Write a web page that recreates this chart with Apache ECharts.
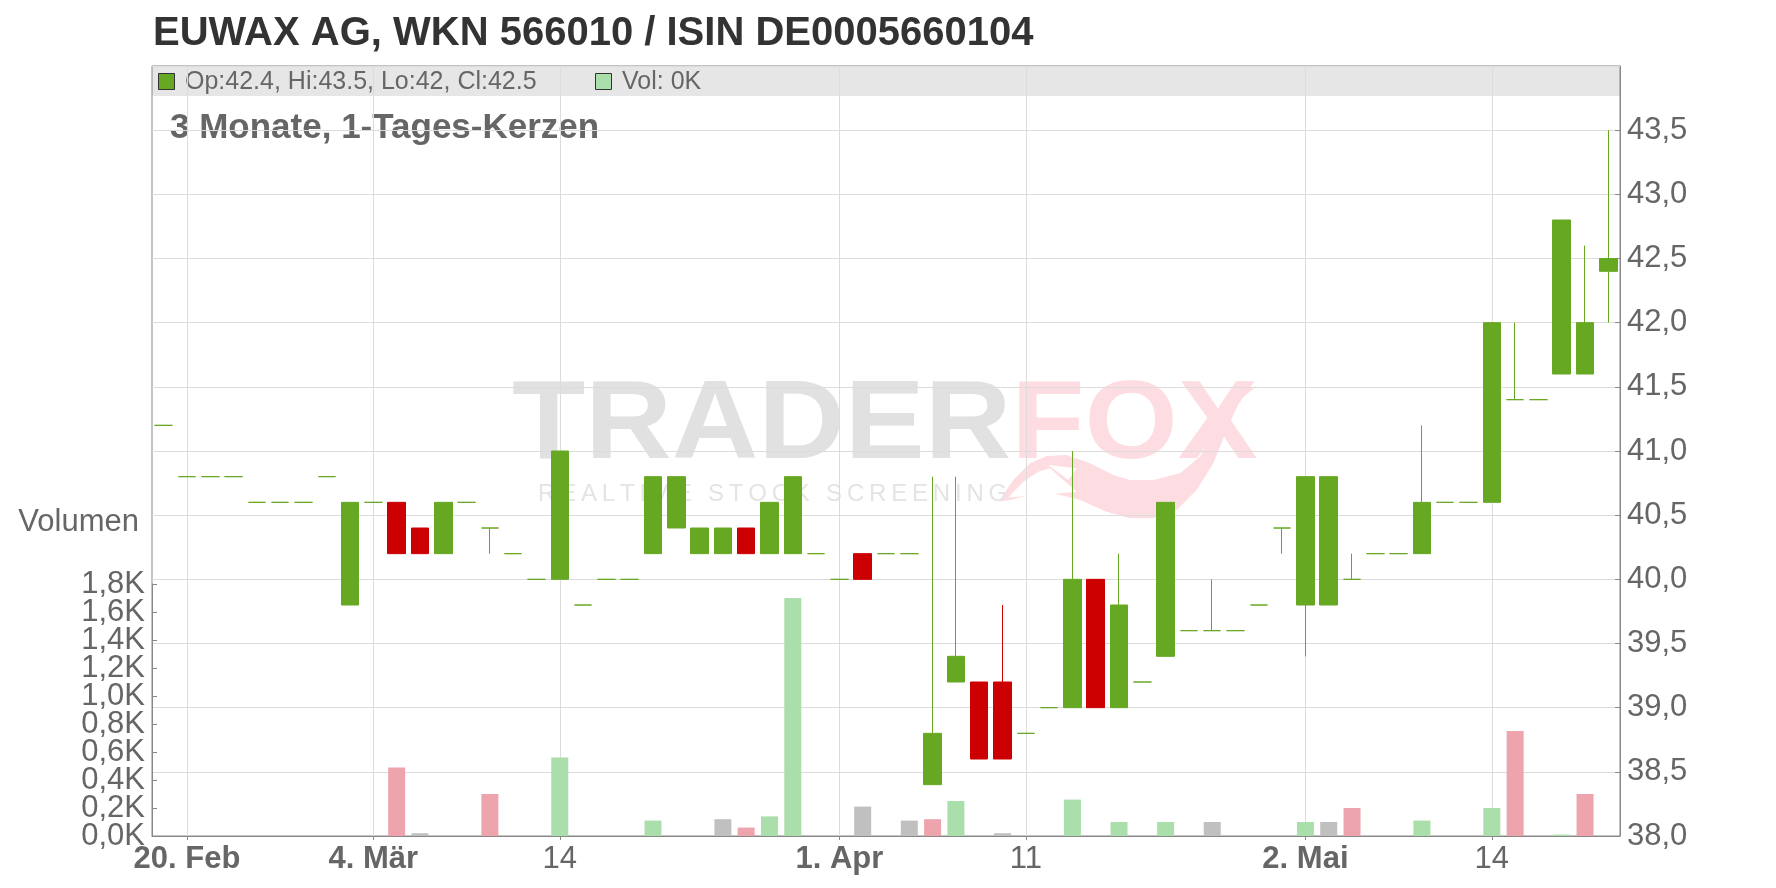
<!DOCTYPE html>
<html><head><meta charset="utf-8">
<script src="https://cdn.jsdelivr.net/npm/echarts@6/dist/echarts.min.js"></script>
<style>html,body{margin:0;padding:0;background:#fff}#c{width:1776px;height:888px}</style>
</head><body><div id="c"></div>
<script>
// ---- data ----
const dates = ['2019-02-19','2019-02-20','2019-02-21','2019-02-22','2019-02-25','2019-02-26','2019-02-27','2019-02-28','2019-03-01','2019-03-04',
'2019-03-05','2019-03-06','2019-03-07','2019-03-08','2019-03-11','2019-03-12','2019-03-13','2019-03-14','2019-03-15','2019-03-18',
'2019-03-19','2019-03-20','2019-03-21','2019-03-22','2019-03-25','2019-03-26','2019-03-27','2019-03-28','2019-03-29','2019-04-01',
'2019-04-02','2019-04-03','2019-04-04','2019-04-05','2019-04-08','2019-04-09','2019-04-10','2019-04-11','2019-04-12','2019-04-15',
'2019-04-16','2019-04-17','2019-04-18','2019-04-23','2019-04-24','2019-04-25','2019-04-26','2019-04-29','2019-04-30','2019-05-02',
'2019-05-03','2019-05-06','2019-05-07','2019-05-08','2019-05-09','2019-05-10','2019-05-13','2019-05-14','2019-05-15','2019-05-16',
'2019-05-17','2019-05-20','2019-05-21'];
const openP  = [41.2,40.8,40.8,40.8,40.6,40.6,40.6,40.8,39.8,40.6, 40.6,40.4,40.2,40.6,40.4,40.2,40.0,40.0,39.8,40.0, 40.0,40.2,40.4,40.2,40.2,40.4,40.2,40.2,40.2,40.0, 40.2,40.2,40.2,38.4,39.2,39.2,39.2,38.8,39.0,39.0, 40.0,39.0,39.2,39.4,39.6,39.6,39.6,39.8,40.4,39.8, 39.8,40.0,40.2,40.2,40.2,40.6,40.6,40.6,41.4,41.4, 41.6,41.6,42.4];
const highP  = [41.2,40.8,40.8,40.8,40.6,40.6,40.6,40.8,40.6,40.6, 40.6,40.4,40.6,40.6,40.4,40.2,40.0,41.0,39.8,40.0, 40.0,40.8,40.8,40.4,40.4,40.4,40.6,40.8,40.2,40.0, 40.2,40.2,40.2,40.8,40.8,39.2,39.8,38.8,39.0,41.0, 40.0,40.2,39.2,40.6,39.6,40.0,39.6,39.8,40.4,40.8, 40.8,40.2,40.2,40.2,41.2,40.6,40.6,42.0,42.0,41.4, 42.8,42.6,43.5];
const lowP   = [41.2,40.8,40.8,40.8,40.6,40.6,40.6,40.8,39.8,40.6, 40.2,40.2,40.2,40.6,40.2,40.2,40.0,40.0,39.8,40.0, 40.0,40.2,40.4,40.2,40.2,40.2,40.2,40.2,40.2,40.0, 40.0,40.2,40.2,38.4,39.2,38.6,38.6,38.8,39.0,39.0, 39.0,39.0,39.2,39.4,39.6,39.6,39.6,39.8,40.2,39.4, 39.8,40.0,40.2,40.2,40.2,40.6,40.6,40.6,41.4,41.4, 41.6,41.6,42.0];
const closeP = [41.2,40.8,40.8,40.8,40.6,40.6,40.6,40.8,40.6,40.6, 40.2,40.2,40.6,40.6,40.4,40.2,40.0,41.0,39.8,40.0, 40.0,40.8,40.8,40.4,40.4,40.2,40.6,40.8,40.2,40.0, 40.0,40.2,40.2,38.8,39.4,38.6,38.6,38.8,39.0,40.0, 39.0,39.8,39.2,40.6,39.6,39.6,39.6,39.8,40.4,40.8, 40.8,40.0,40.2,40.2,40.6,40.6,40.6,42.0,41.4,41.4, 42.8,42.0,42.5];
const volumeK = [0,0,0,0,0,0,0,0,0,0, 0.49,0.02,0,0,0.30,0,0,0.56,0,0, 0,0.11,0,0,0.12,0.06,0.14,1.70,0,0, 0.21,0,0.11,0.12,0.25,0,0.02,0,0,0.26, 0,0.10,0,0.10,0,0.10,0,0,0,0.10, 0.10,0.20,0,0,0.11,0,0,0.20,0.75,0, 0.01,0.30,0];
const tickDates  = ['2019-02-20','2019-03-04','2019-03-14','2019-04-01','2019-04-11','2019-05-02','2019-05-14'];
const tickLabels = ['20. Feb','4. Mär','14','1. Apr','11','2. Mai','14'];
const tickBold   = [true,true,false,true,false,true,false];
const volTicksA = [0, 0.4, 0.8, 1.2, 1.6];
const volTicksB = [0.2, 0.6, 1.0, 1.4, 1.8];
const titleText = 'EUWAX AG, WKN 566010 / ISIN DE0005660104';
const subtitleText = '3 Monate, 1-Tages-Kerzen';
const volumeName = 'Volumen';

// ---- colours ----
const UP = '#67a823', DOWN = '#cc0000';
const V_UP = '#aadeaa', V_DOWN = '#eea4ac', V_FLAT = '#c0c0c0';
const FONT = '"Liberation Sans", Arial, sans-serif';
const AX = 31;

const candleData = dates.map((d, i) => {
  const item = { value: [openP[i], closeP[i], lowP[i], highP[i]] };
  if (openP[i] === closeP[i]) {
    item.itemStyle = { color: UP, color0: UP, borderColor: UP, borderColor0: UP };
  }
  return item;
});
const volData = dates.map((d, i) => {
  let c = V_FLAT;
  if (i > 0) {
    if (closeP[i] > closeP[i - 1]) c = V_UP;
    else if (closeP[i] < closeP[i - 1]) c = V_DOWN;
  }
  return { value: volumeK[i], itemStyle: { color: c } };
});

const last = dates.length - 1;
const headerText = 'Op:' + openP[last] + ', Hi:' + highP[last] + ', Lo:' + lowP[last] + ', Cl:' + closeP[last];
const volText = 'Vol: ' + volumeK[last] + 'K';

const isTick = (i, v) => tickDates.indexOf(v) >= 0;
const comma = v => v.toFixed(1).replace('.', ',');
const TS = '\u2009';
const spaced = s => s.split(' ').map(w => w.split('').join(TS)).join(' ' + TS + TS);

// watermark fox-tail decoration (logo outline, mapped to page pixels)
const Z = p => [980 + p[0] / 3, 380 + p[1] / 3];
const foxOuter = [[55,365],[100,300],[150,250],[200,228],[260,225],[330,250],[400,285],[450,300],[520,300],[600,280],[660,230],[700,150],[740,80],[790,30],[830,18],
  [780,60],[740,150],[700,250],[650,330],[590,390],[520,415],[450,415],[380,395],[300,360],[220,340],[150,345],[90,360]].map(Z);
const foxHollow = [[85,352],[130,305],[175,275],[210,265],[250,300],[290,335],[240,340],[160,345],[100,352]].map(Z);
const foxNotch = [[205,255],[290,265],[265,300]].map(Z);

const volLabel = { fontSize: AX, color: '#666', margin: 7, fontFamily: FONT, formatter: v => comma(v) + 'K' };
const volGrid = { left: 152, right: 156, top: 584, bottom: 52 };

const chart = echarts.init(document.getElementById('c'), null, { renderer: 'canvas' });
chart.setOption({
  animation: false,
  backgroundColor: '#ffffff',
  textStyle: { fontFamily: FONT },
  grid: [
    { left: 152, right: 156, top: 66, bottom: 52, show: true, borderColor: '#888', borderWidth: 1, backgroundColor: 'rgba(0,0,0,0)' },
    volGrid,
    volGrid
  ],
  xAxis: [
    {
      type: 'category', data: dates, gridIndex: 0, boundaryGap: true,
      axisLine: { show: true, lineStyle: { color: '#888', width: 1 } },
      axisTick: { show: true, alignWithLabel: true, interval: isTick, length: 4, lineStyle: { color: '#888' } },
      splitLine: { show: true, alignWithLabel: true, interval: isTick, lineStyle: { color: '#dcdcdc', width: 1 } },
      axisLabel: {
        show: true, interval: isTick, margin: 8, color: '#666', fontFamily: FONT,
        formatter: (v) => {
          const k = tickDates.indexOf(v);
          if (k < 0) return '';
          return (tickBold[k] ? '{b|' : '{n|') + tickLabels[k] + '}';
        },
        rich: {
          b: { fontSize: AX, fontWeight: 'bold', color: '#666', fontFamily: FONT },
          n: { fontSize: AX, color: '#666', fontFamily: FONT }
        }
      }
    },
    { type: 'category', data: dates, gridIndex: 1, boundaryGap: true, show: false },
    { type: 'category', data: dates, gridIndex: 2, boundaryGap: true, show: false }
  ],
  yAxis: [
    {
      type: 'value', gridIndex: 0, position: 'right', min: 38, max: 44, interval: 0.5,
      axisLine: { show: true, lineStyle: { color: '#888' } },
      axisTick: { show: true, inside: true, length: 5, lineStyle: { color: '#888' } },
      axisLabel: { showMinLabel: true, showMaxLabel: false, formatter: comma, fontSize: AX, color: '#666', margin: 7, fontFamily: FONT },
      splitLine: { show: true, lineStyle: { color: '#dcdcdc', width: 1 } }
    },
    {
      type: 'value', gridIndex: 1, position: 'left', min: 0, max: 1.8, interval: 0.2,
      name: volumeName, nameLocation: 'end', nameGap: 62,
      nameTextStyle: { fontSize: AX, color: '#666', align: 'right', verticalAlign: 'middle', padding: [0, 13, 0, 0], fontFamily: FONT },
      axisLine: { show: true, lineStyle: { color: '#888' } },
      axisTick: { show: true, inside: true, length: 5, lineStyle: { color: '#888' } },
      axisLabel: Object.assign({ customValues: volTicksA }, volLabel),
      splitLine: { show: false }
    },
    {
      type: 'value', gridIndex: 2, position: 'left', min: 0, max: 1.8, interval: 0.2,
      axisLine: { show: false }, axisTick: { show: false },
      axisLabel: Object.assign({ customValues: volTicksB }, volLabel),
      splitLine: { show: false }
    }
  ],
  graphic: [
    { type: 'rect', z: -10, silent: true, shape: { x: 152, y: 66, width: 1468, height: 30 }, style: { fill: '#e6e6e6' } },
    { type: 'polygon', z: -7, silent: true, shape: { points: foxOuter }, style: { fill: '#fddde2' } },
    { type: 'polygon', z: -6, silent: true, shape: { points: foxHollow }, style: { fill: '#ffffff' } },
    { type: 'polygon', z: -6, silent: true, shape: { points: foxNotch }, style: { fill: '#ffffff' } },
    { type: 'text', z: -5, silent: true, x: 512, y: 427, scaleX: 1.07,
      style: { text: '{a|TRADER}{b|FOX}', verticalAlign: 'middle',
        rich: { a: { fontSize: 112, fontWeight: 'bold', fill: '#e1e1e1', fontFamily: FONT },
                b: { fontSize: 112, fontWeight: 'bold', fill: '#fddde2', fontFamily: FONT } } } },
    { type: 'text', z: -5, silent: true, x: 538, y: 494,
      style: { text: spaced('REALTIME STOCK SCREENING'), fontSize: 24, fill: '#e4e4e4', verticalAlign: 'middle', fontFamily: FONT } },
    { type: 'text', silent: true, x: 153, y: 34,
      style: { text: titleText, fontSize: 40, fontWeight: 'bold', fill: '#333', verticalAlign: 'middle', fontFamily: FONT } },
    { type: 'text', silent: true, x: 170, y: 128,
      style: { text: subtitleText, fontSize: 35, fontWeight: 'bold', fill: '#666', verticalAlign: 'middle', fontFamily: FONT } },
    { type: 'rect', silent: true, shape: { x: 158.5, y: 73.5, width: 16, height: 16 }, style: { fill: UP, stroke: '#333', lineWidth: 1 } },
    { type: 'text', silent: true, x: 185, y: 82,
      style: { text: headerText, fontSize: 25, fill: '#666', verticalAlign: 'middle', fontFamily: FONT } },
    { type: 'rect', silent: true, shape: { x: 595.5, y: 73.5, width: 16, height: 16 }, style: { fill: V_UP, stroke: '#333', lineWidth: 1 } },
    { type: 'text', silent: true, x: 622, y: 82,
      style: { text: volText, fontSize: 25, fill: '#666', verticalAlign: 'middle', fontFamily: FONT } }
  ],
  series: [
    {
      type: 'candlestick', name: 'Kurs', xAxisIndex: 0, yAxisIndex: 0, data: candleData, barWidth: 18,
      itemStyle: { color: UP, color0: DOWN, borderColor: UP, borderColor0: DOWN, borderColorDoji: UP, borderWidth: 1 }
    },
    {
      type: 'bar', name: 'Volumen', xAxisIndex: 1, yAxisIndex: 1, data: volData, barWidth: 17
    }
  ]
});
</script></body></html>
